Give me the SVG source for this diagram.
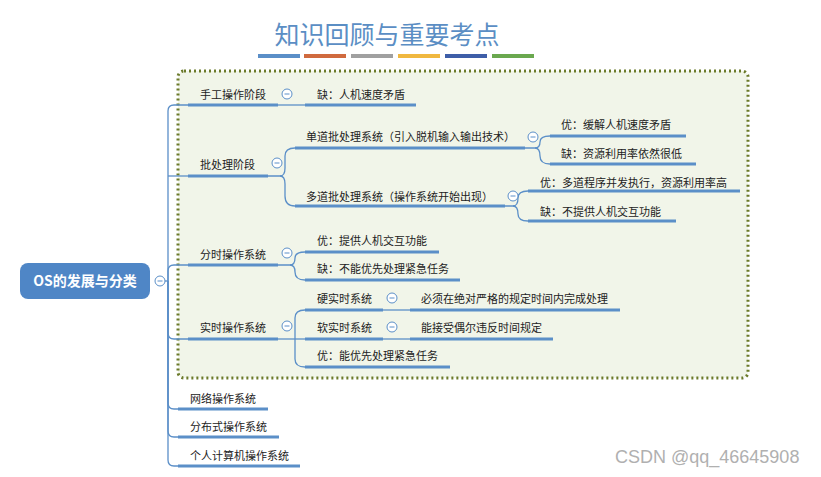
<svg xmlns="http://www.w3.org/2000/svg" width="821" height="477" viewBox="0 0 821 477">
<style>
text{font-family:"Noto Sans CJK SC","Liberation Sans",sans-serif;font-size:11px;fill:#222}
.u{stroke:#5b8fc8;stroke-width:3;fill:none}
.c{stroke:#5b8fc8;stroke-width:1.3;fill:none}
.o{fill:#fff;stroke:#5b8fc8;stroke-width:1}
.m{stroke:#5b8fc8;stroke-width:1}
</style>
<defs><g id="col"><circle class="o" r="5"/><line class="m" x1="-2.5" x2="2.5"/></g></defs>
<rect width="821" height="477" fill="#fff"/>
<text x="387" y="44" text-anchor="middle" style="font-size:25px;fill:#5b8ec4">知识回顾与重要考点</text>
<g>
<rect x="258" y="54" width="42" height="4" fill="#5b8fc8"/><rect x="304" y="54" width="42" height="4" fill="#d06a3e"/>
<rect x="351" y="54" width="42" height="4" fill="#a0a0a0"/><rect x="398" y="54" width="42" height="4" fill="#f0b840"/>
<rect x="445" y="54" width="42" height="4" fill="#3e5ea8"/><rect x="492" y="54" width="42" height="4" fill="#6aa84f"/>
</g>
<rect x="178" y="71" width="570" height="307" rx="6" fill="#f1f5e9" stroke="#6b7a2a" stroke-width="3" stroke-dasharray="2,3"/>
<g id="connectors">
<path class="c" d="M160 281 H168"/>
<path class="c" d="M168 281 V111 Q168 105 174 105 H188"/>
<path class="c" d="M168 176 H188"/>
<path class="c" d="M168 281 V271 Q168 265 174 265 H188"/>
<path class="c" d="M168 281 V333 Q168 339 174 339 H188"/>
<path class="c" d="M168 281 V403 Q168 409 174 409 H178"/>
<path class="c" d="M168 281 V431 Q168 437 174 437 H178"/>
<path class="c" d="M168 281 V460 Q168 466 174 466 H178"/>
<path class="c" d="M278 105 H305"/>
<path class="c" d="M268 176 H280 Q285 176 285 168 V156 Q285 148 295 148"/>
<path class="c" d="M280 176 Q285 176 285 184 V196 Q285 206 295 206"/>
<path class="c" d="M525 148 H535 Q540 148 540 142 Q540 136 550 136"/>
<path class="c" d="M535 148 Q540 148 540 156 Q540 164 550 164"/>
<path class="c" d="M505 206 H513 Q518 206 518 198 Q518 191 528 191"/>
<path class="c" d="M513 206 Q518 206 518 214 Q518 221 528 221"/>
<path class="c" d="M278 265 H290 Q295 265 295 258 Q295 252 305 252"/>
<path class="c" d="M290 265 Q295 265 295 272 Q295 280 305 280"/>
<path class="c" d="M278 339 H305"/>
<path class="c" d="M295 339 V318 Q295 310 305 310"/>
<path class="c" d="M295 339 V359 Q295 367 305 367"/>
<path class="c" d="M383 310 H410"/>
<path class="c" d="M383 339 H410"/>
</g>
<g id="root"><rect x="20" y="263" width="130" height="36" rx="8" fill="#4f86c6"/><text x="85" y="286" text-anchor="middle" style="fill:#fff;font-size:14px;font-weight:bold">OS的发展与分类</text><use href="#col" x="160" y="281"/></g>
<g id="n1"><text x="200" y="99">手工操作阶段</text><path class="u" d="M188 105 H278"/><use href="#col" x="287" y="94"/></g>
<g id="n1a"><text x="317" y="99">缺：人机速度矛盾</text><path class="u" d="M305 105 H416"/></g>
<g id="n2"><text x="200" y="169">批处理阶段</text><path class="u" d="M188 176 H268"/><use href="#col" x="277" y="163"/></g>
<g id="n2a"><text x="306" y="141">单道批处理系统（引入脱机输入输出技术）</text><path class="u" d="M295 148 H525"/><use href="#col" x="533" y="137"/></g>
<g id="n2a1"><text x="561" y="129">优：缓解人机速度矛盾</text><path class="u" d="M550 136 H686"/></g>
<g id="n2a2"><text x="561" y="158">缺：资源利用率依然很低</text><path class="u" d="M550 164 H696"/></g>
<g id="n2b"><text x="306" y="201">多道批处理系统（操作系统开始出现）</text><path class="u" d="M295 206 H505"/><use href="#col" x="513" y="196"/></g>
<g id="n2b1"><text x="540" y="187">优：多道程序并发执行，资源利用率高</text><path class="u" d="M528 191 H740"/></g>
<g id="n2b2"><text x="540" y="216">缺：不提供人机交互功能</text><path class="u" d="M528 221 H676"/></g>
<g id="n3"><text x="200" y="259">分时操作系统</text><path class="u" d="M188 265 H278"/><use href="#col" x="287" y="253"/></g>
<g id="n3a"><text x="317" y="245">优：提供人机交互功能</text><path class="u" d="M305 252 H439"/></g>
<g id="n3b"><text x="317" y="273">缺：不能优先处理紧急任务</text><path class="u" d="M305 280 H460"/></g>
<g id="n4"><text x="200" y="332">实时操作系统</text><path class="u" d="M188 339 H278"/><use href="#col" x="287" y="326"/></g>
<g id="n4a"><text x="317" y="303">硬实时系统</text><path class="u" d="M305 310 H383"/><use href="#col" x="392" y="298"/></g>
<g id="n4a1"><text x="421" y="303">必须在绝对严格的规定时间内完成处理</text><path class="u" d="M410 310 H620"/></g>
<g id="n4b"><text x="317" y="332">软实时系统</text><path class="u" d="M305 339 H383"/><use href="#col" x="392" y="327"/></g>
<g id="n4b1"><text x="421" y="332">能接受偶尔违反时间规定</text><path class="u" d="M410 339 H553"/></g>
<g id="n4c"><text x="317" y="360">优：能优先处理紧急任务</text><path class="u" d="M305 367 H450"/></g>
<g id="n5"><text x="190" y="403">网络操作系统</text><path class="u" d="M178 409 H268"/></g>
<g id="n6"><text x="190" y="431">分布式操作系统</text><path class="u" d="M178 437 H279"/></g>
<g id="n7"><text x="190" y="460">个人计算机操作系统</text><path class="u" d="M178 466 H300"/></g>
<text x="615" y="463" style="font-size:18px;fill:#b0b0b0;font-family:'Liberation Sans',sans-serif">CSDN @qq_46645908</text>
</svg>
